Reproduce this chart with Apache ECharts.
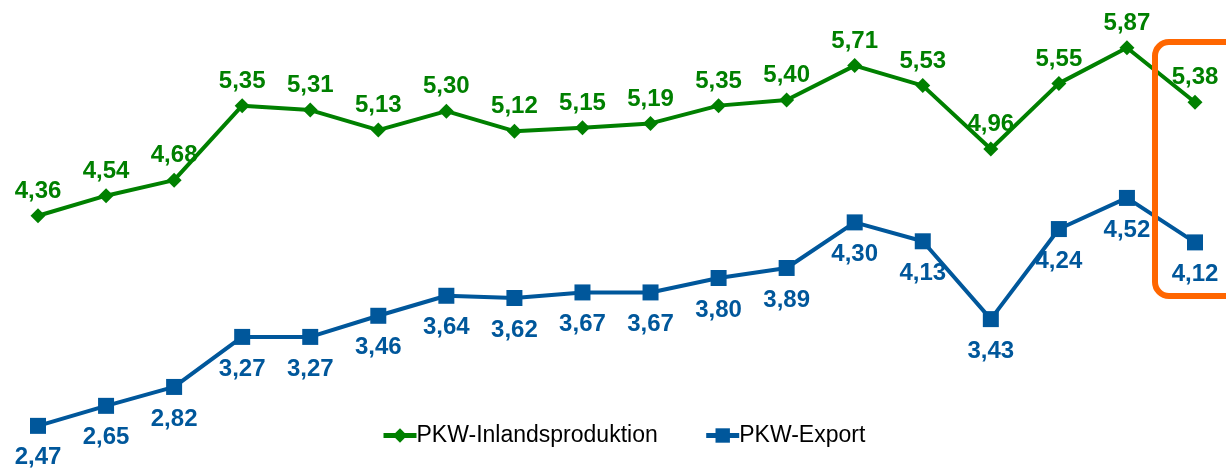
<!DOCTYPE html>
<html>
<head>
<meta charset="utf-8">
<script src="https://cdn.jsdelivr.net/npm/echarts@6/dist/echarts.min.js"></script>
<style>
  html, body { margin: 0; padding: 0; background: #fff; }
  #main { width: 1226px; height: 470px; }
</style>
</head>
<body>
<div id="main"></div>
<script>
var myChart = echarts.init(document.getElementById('main'))

// 18 Zeitpunkte (ohne Beschriftung auf der Achse)
var categories = ['1', '2', '3', '4', '5', '6', '7', '8', '9', '10', '11', '12', '13', '14', '15', '16', '17', '18']
var inland = [4.36, 4.54, 4.68, 5.35, 5.31, 5.13, 5.30, 5.12, 5.15, 5.19, 5.35, 5.40, 5.71, 5.53, 4.96, 5.55, 5.87, 5.38]
var exportData = [2.47, 2.65, 2.82, 3.27, 3.27, 3.46, 3.64, 3.62, 3.67, 3.67, 3.80, 3.89, 4.30, 4.13, 3.43, 4.24, 4.52, 4.12]

var green = '#008000'
var blue = '#00579b'

function fmt (p) {
  return p.value.toFixed(2).replace('.', ',')
}

var option = {
  animation: false,
  grid: { left: 38, right: 31, top: -1, bottom: 3, containLabel: false },
  xAxis: {
    type: 'category',
    data: categories,
    boundaryGap: false,
    show: false
  },
  yAxis: {
    type: 'value',
    min: 2.1,
    max: 6.3,
    show: false
  },
  legend: {
    left: 376,
    top: 419,
    itemWidth: 33,
    itemHeight: 18,
    itemGap: 46,
    lineStyle: { width: 5 },
    textStyle: { fontFamily: 'Liberation Sans, Arial', fontSize: 23, color: '#000', padding: [0, 0, 0, -5] },
    data: ['PKW-Inlandsproduktion', 'PKW-Export']
  },
  series: [
    {
      name: 'PKW-Inlandsproduktion',
      type: 'line',
      data: inland,
      symbol: 'diamond',
      symbolSize: 15,
      lineStyle: { color: green, width: 4 },
      itemStyle: { color: green },
      label: {
        show: true,
        position: 'top',
        distance: 5,
        formatter: fmt,
        color: green,
        fontFamily: 'Liberation Sans, Arial',
        fontWeight: 'bold',
        fontSize: 24
      }
    },
    {
      name: 'PKW-Export',
      type: 'line',
      data: exportData,
      symbol: 'rect',
      symbolSize: 16,
      lineStyle: { color: blue, width: 4 },
      itemStyle: { color: blue },
      label: {
        show: true,
        position: 'bottom',
        distance: 12,
        formatter: fmt,
        color: blue,
        fontFamily: 'Liberation Sans, Arial',
        fontWeight: 'bold',
        fontSize: 24
      }
    }
  ],
  graphic: [
    {
      type: 'rect',
      shape: { x: 1155, y: 42, width: 110, height: 254, r: 14 },
      style: { fill: 'none', stroke: '#ff6600', lineWidth: 6 },
      z: 100
    }
  ]
}

myChart.setOption(option)
</script>
</body>
</html>
